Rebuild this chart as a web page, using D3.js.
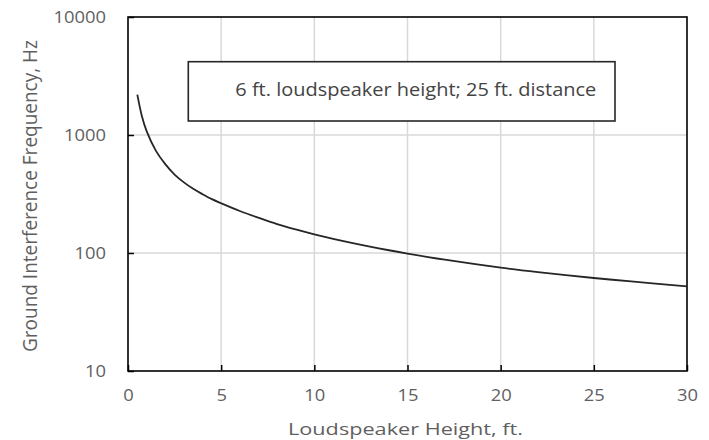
<!DOCTYPE html>
<html>
<head>
<meta charset="utf-8">
<script src="https://cdn.jsdelivr.net/npm/d3@7/dist/d3.min.js"></script>
<style>
  html, body { margin: 0; padding: 0; background: #fff; }
  svg { display: block; }
  text { font-family: "Open Sans", "Noto Sans", sans-serif; }
</style>
</head>
<body>
<svg id="chart" width="709" height="440"></svg>
<script>
// Loudspeaker height (ft) and the resulting ground-interference frequency (Hz)
const heights = [0.5, 0.75, 1, 1.5, 2, 2.5, 3, 3.5, 4, 4.5, 5, 6, 7, 8, 9, 10, 12, 14, 15, 17, 20, 22, 25, 27, 30];
const frequencies = [2200, 1437, 1078, 733, 566, 462, 397, 350, 315, 286, 264, 227, 199, 176, 158.5, 144, 121.7, 105.5, 98.9, 87.8, 75.2, 68.9, 61.4, 57.4, 52.2];

const xTicks = [0, 5, 10, 15, 20, 25, 30];
const yTicks = [10, 100, 1000, 10000];

const noteText = "6 ft. loudspeaker height; 25 ft. distance";
const xTitle = "Loudspeaker Height, ft.";
const yTitle = "Ground Interference Frequency, Hz";

const svg = d3.select("#chart");
const m = { left: 128, top: 17, right: 709 - 687, bottom: 440 - 371 };
const W = 709 - m.left - m.right;
const H = 440 - m.top - m.bottom;

const x = d3.scaleLinear().domain([0, 30]).range([0, W]);
const y = d3.scaleLog().domain([10, 10000]).range([H, 0]);

const g = svg.append("g").attr("transform", `translate(${m.left},${m.top})`);

// gridlines
g.append("g").selectAll("line").data(xTicks.slice(1, -1)).join("line")
  .attr("x1", d => x(d)).attr("x2", d => x(d))
  .attr("y1", 0).attr("y2", H)
  .attr("stroke", "#d9d9d9").attr("stroke-width", 1.5);
g.append("g").selectAll("line").data(yTicks.slice(1, -1)).join("line")
  .attr("y1", d => y(d)).attr("y2", d => y(d))
  .attr("x1", 0).attr("x2", W)
  .attr("stroke", "#d9d9d9").attr("stroke-width", 1.5);

// axes with inward ticks
const digitW = 10.5;
const xAxis = g.append("g").attr("transform", `translate(0,${H})`)
  .call(d3.axisBottom(x).tickValues(xTicks).tickSize(-6).tickPadding(19).tickFormat(d3.format("d")));
const yAxis = g.append("g")
  .call(d3.axisLeft(y).tickValues(yTicks).tickSize(-6).tickPadding(22).tickFormat(d3.format("d")));

[xAxis, yAxis].forEach(a => {
  a.select(".domain").remove();
  a.selectAll(".tick line").attr("stroke", "#000").attr("stroke-width", 1.5);
  a.selectAll(".tick text")
    .attr("fill", "#5f5f5f")
    .style("font-size", "16px")
    .style("font-family", "'Open Sans', sans-serif")
    .attr("textLength", function () { return this.textContent.length * digitW; })
    .attr("lengthAdjust", "spacingAndGlyphs");
});

// frame
g.append("rect").attr("x", 0).attr("y", 0).attr("width", W).attr("height", H)
  .attr("fill", "none").attr("stroke", "#000").attr("stroke-width", 1.6);

// curve
const line = d3.line()
  .x((d, i) => x(heights[i]))
  .y(d => y(d))
  .curve(d3.curveCatmullRom.alpha(0.5));
g.append("path").datum(frequencies)
  .attr("d", line)
  .attr("fill", "none")
  .attr("stroke", "#262626")
  .attr("stroke-width", 1.8);

// annotation box
const box = { x: 60.3, y: 44.7, w: 426.7, h: 59.3 };
g.append("rect").attr("x", box.x).attr("y", box.y).attr("width", box.w).attr("height", box.h)
  .attr("fill", "#fff").attr("stroke", "#262626").attr("stroke-width", 1.6);
g.append("text")
  .attr("x", box.x + 47).attr("y", box.y + 34)
  .attr("fill", "#444")
  .style("font-size", "17.5px")
  .attr("textLength", 361)
  .attr("lengthAdjust", "spacingAndGlyphs")
  .text(noteText);

// axis titles
svg.append("text")
  .attr("x", 288).attr("y", 435)
  .attr("fill", "#5f5f5f")
  .style("font-size", "16.5px")
  .attr("textLength", 235)
  .attr("lengthAdjust", "spacingAndGlyphs")
  .text(xTitle);
svg.append("text")
  .attr("transform", `translate(36.5,196) scale(1.25,1) rotate(-90)`)
  .attr("text-anchor", "middle")
  .attr("fill", "#5f5f5f")
  .style("font-size", "16.5px")
  .attr("textLength", 312)
  .attr("lengthAdjust", "spacingAndGlyphs")
  .text(yTitle);
</script>
</body>
</html>
